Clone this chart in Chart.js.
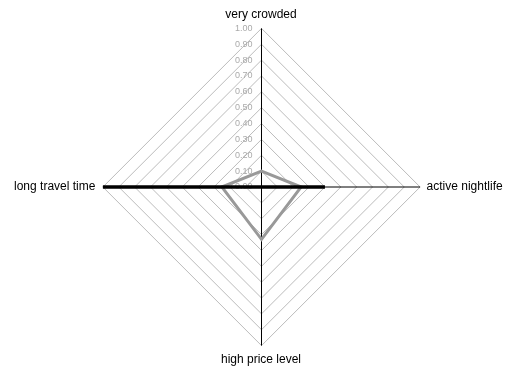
<!DOCTYPE html>
<html>
<head>
<meta charset="utf-8">
<script src="https://cdn.jsdelivr.net/npm/chart.js@4/dist/chart.umd.min.js"></script>
<style>
  html, body { margin: 0; padding: 0; background: #fff; }
  #wrap { width: 507px; height: 374px; }
</style>
</head>
<body>
<div id="wrap"><canvas id="c"></canvas></div>
<script>
// Axis categories, clockwise from the top
const categories = ['very crowded', 'active nightlife', 'high price level', 'long travel time'];
// Profile values on a 0..1 scale
const profileA = [0, 0.4, 0, 1.0];
const profileB = [0.1, 0.25, 0.33, 0.25];
const scaleMin = 0;
const scaleMax = 1;
const scaleStep = 0.1;

// Put the vertical axis on a pixel centre so it renders as a sharp 1px line
const crispAxis = {
  id: 'crispAxis',
  afterLayout(chart) {
    chart.scales.r.xCenter += 0.5;
  }
};

// Tick labels drawn just left of the vertical axis
const sideTicks = {
  id: 'sideTicks',
  beforeDatasetsDraw(chart) {
    const s = chart.scales.r;
    const ctx = chart.ctx;
    ctx.save();
    ctx.font = '9px "Liberation Sans", Arial, sans-serif';
    ctx.fillStyle = '#aaaaaa';
    ctx.textAlign = 'right';
    ctx.textBaseline = 'middle';
    s.ticks.forEach(t => {
      const d = s.getDistanceFromCenterForValue(t.value);
      ctx.fillText(t.value.toFixed(2), s.xCenter - 9, s.yCenter - d);
    });
    ctx.restore();
  }
};

new Chart(document.getElementById('c'), {
  type: 'radar',
  data: {
    labels: categories,
    datasets: [
      { data: profileA, borderColor: '#000000', borderWidth: 3.5, fill: false, pointRadius: 0, tension: 0 },
      { data: profileB, borderColor: '#999999', borderWidth: 3, fill: false, pointRadius: 0, tension: 0 }
    ]
  },
  options: {
    responsive: true,
    maintainAspectRatio: false,
    animation: false,
    layout: { padding: { left: 10, right: 0, top: 7, bottom: 7 } },
    plugins: { legend: { display: false }, tooltip: { enabled: false } },
    scales: {
      r: {
        min: scaleMin,
        max: scaleMax,
        ticks: { stepSize: scaleStep, display: false },
        grid: { color: '#bbbbbb', lineWidth: 1 },
        angleLines: { color: '#000000', lineWidth: 1 },
        pointLabels: {
          color: '#000000',
          padding: 7,
          font: { family: '"Liberation Sans", Arial, sans-serif', size: 12 }
        }
      }
    }
  },
  plugins: [crispAxis, sideTicks]
});
</script>
</body>
</html>
